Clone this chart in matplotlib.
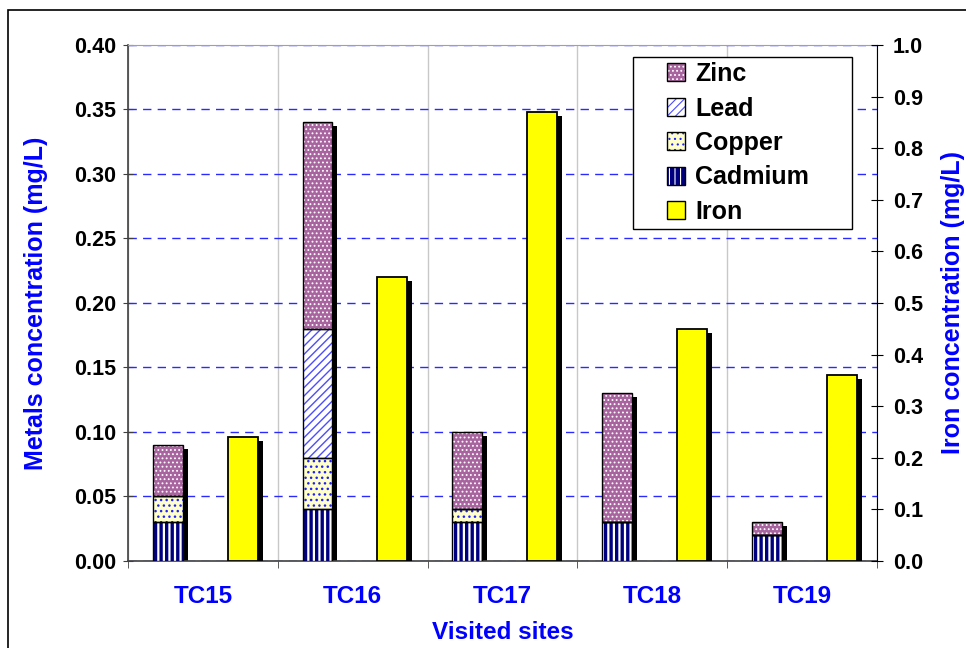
import numpy as np
import matplotlib
matplotlib.use("Agg")
import matplotlib.pyplot as plt
import matplotlib.patheffects as pe
from matplotlib.patches import Rectangle
from matplotlib.legend_handler import HandlerPatch
from matplotlib.ticker import MultipleLocator, FormatStrFormatter

plt.rcParams['font.family'] = ['Liberation Sans', 'DejaVu Sans']
plt.rcParams['font.weight'] = 'bold'

sites = ['TC15', 'TC16', 'TC17', 'TC18', 'TC19']
cadmium = [0.03, 0.04, 0.03, 0.03, 0.02]
copper = [0.02, 0.04, 0.01, 0.00, 0.00]
lead = [0.00, 0.10, 0.00, 0.00, 0.00]
zinc = [0.04, 0.16, 0.06, 0.10, 0.01]
iron = [0.24, 0.55, 0.87, 0.45, 0.36]

x = np.arange(len(sites))
w = 0.2
xm = x - 0.235
xi = x + 0.265

fig = plt.figure(figsize=(9.66, 6.48), dpi=100)
fig.patches.append(Rectangle((8 / 966, -0.05), 1.2, 0.05 + 1 - 10 / 648,
                             transform=fig.transFigure, fill=False,
                             edgecolor='black', lw=1.2))

ax = fig.add_axes([0.1325, 0.1343, 0.7754, 0.7963])
ax2 = ax.twinx()

shadow = [pe.SimplePatchShadow(offset=(3.6, -2.9), shadow_rgbFace='black', alpha=1.0),
          pe.Normal()]

# metals: shadow first, then stacked hatched segments, then outlines
total = np.array(cadmium) + np.array(copper) + np.array(lead) + np.array(zinc)
ax.bar(xm, total, w, color='none', edgecolor='none', path_effects=shadow, zorder=2)

styles = [
    ('Cadmium', cadmium, '#000080', 'white', '|||', 1.6),
    ('Copper', copper, '#ffffcc', '#2020ff', '...', 1.0),
    ('Lead', lead, 'white', '#4d4dff', '////', 1.0),
    ('Zinc', zinc, '#a8649f', 'white', '....', 0.8),
]
handles = {}
bottom = np.zeros(len(sites))
for name, vals, face, hcol, hatch, hlw in styles:
    plt.rcParams['hatch.linewidth'] = hlw
    bars = ax.bar(xm, vals, w, bottom=bottom, color=face, edgecolor=hcol,
                  hatch=hatch, lw=0, zorder=3)
    for b in bars:
        if hasattr(b, 'set_hatch_linewidth'):
            b.set_hatch_linewidth(hlw)
    outl = ax.bar(xm, vals, w, bottom=bottom, fill=False, edgecolor='black',
                  lw=1.0, zorder=4)
    handles[name] = (bars[0], outl[0])
    bottom += np.array(vals)

iron_bars = ax2.bar(xi, iron, w, color='#ffff00', edgecolor='black', lw=1.3,
                    path_effects=shadow, zorder=3)

ax.set_xlim(-0.5, len(sites) - 0.5)
ax.set_ylim(0, 0.40)
ax2.set_ylim(0, 1.0)

ax.yaxis.set_major_locator(MultipleLocator(0.05))
ax.yaxis.set_major_formatter(FormatStrFormatter('%.2f'))
ax2.yaxis.set_major_locator(MultipleLocator(0.1))
ax2.yaxis.set_major_formatter(FormatStrFormatter('%.1f'))

ax.set_xticks(x)
ax.set_xticklabels(sites)
ax.set_xticks(np.arange(len(sites) + 1) - 0.5, minor=True)
ax.tick_params(axis='x', which='major', length=0, pad=17, labelsize=17.5,
               labelcolor='#0000ff')
ax.tick_params(axis='x', which='minor', length=5, direction='out', color='#404040')
ax.tick_params(axis='y', direction='inout', length=7, labelsize=15.5, pad=5,
               color='#404040')
ax2.tick_params(axis='y', direction='inout', length=9, labelsize=15.5, pad=7)
for lbl in ax.get_yticklabels() + ax2.get_yticklabels() + ax.get_xticklabels():
    lbl.set_fontweight('bold')

# grid
ax.set_axisbelow(True)
ax.grid(axis='x', which='minor', color='#c8c8c8', lw=1.0, linestyle='-')
ax.grid(axis='x', which='major', visible=False)
ax.grid(axis='y', which='major', color='#2a2aff', lw=1.0, linestyle=(0, (6, 4.5)))

for s in ['left', 'bottom']:
    ax.spines[s].set_color('#404040')
    ax.spines[s].set_linewidth(1.2)
ax.spines['top'].set_color('#a0a0a0')
ax2.spines['top'].set_visible(False)
ax2.spines['left'].set_visible(False)
ax2.spines['bottom'].set_visible(False)
ax2.spines['right'].set_color('black')
ax.spines['right'].set_visible(False)

ax.set_xlabel('Visited sites', fontsize=17.5, fontweight='bold', color='#0000ff',
              labelpad=10)
ax.set_ylabel('Metals concentration (mg/L)', fontsize=18, fontweight='bold',
              color='#0000ff', labelpad=19)
ax2.set_ylabel('Iron concentration (mg/L)', fontsize=18, fontweight='bold',
               color='#0000ff', rotation=90, labelpad=13)


# small square markers near the right end of a wider handle box
def square(legend, orig_handle, xdescent, ydescent, width, height, fontsize):
    s = 13
    return Rectangle((width - s - 5 - xdescent, (height - s) / 2 - ydescent), s, s)


iron_proxy = Rectangle((0, 0), 1, 1, facecolor='#ffff00', edgecolor='black', lw=1.0)
leg_names = ['Zinc', 'Lead', 'Copper', 'Cadmium']
leg_handles = [handles[n] for n in leg_names] + [iron_proxy]
leg = ax2.legend(leg_handles, leg_names + ['Iron'], loc='upper left',
                 bbox_to_anchor=(633 / 966, 1 - 228 / 648,
                                 (852 - 633) / 966, (228 - 57) / 648),
                 bbox_transform=fig.transFigure, mode='expand',
                 handler_map={Rectangle: HandlerPatch(patch_func=square)},
                 fancybox=False, framealpha=1, edgecolor='black',
                 prop={'family': 'Liberation Sans', 'weight': 'bold', 'size': 18},
                 handlelength=2.15, handleheight=0.6, handletextpad=0.15,
                 labelspacing=0.42, borderpad=0.2, borderaxespad=0)
leg.get_frame().set_linewidth(1.0)
leg.set_zorder(10)
for h in leg.legend_handles:
    h.set_path_effects([])

fig.savefig('out.png', dpi=100)
